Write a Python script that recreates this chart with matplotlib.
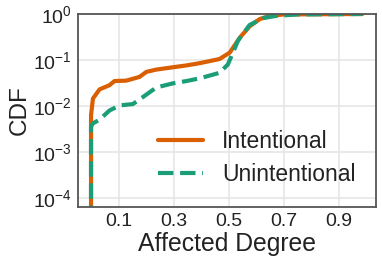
import matplotlib
matplotlib.use("Agg")
import matplotlib.pyplot as plt

# affected degree (x) and log10 of the CDF
intent_x = [0.0, 0.0, 0.007, 0.031, 0.067, 0.085, 0.128, 0.176, 0.201, 0.237,
            0.297, 0.346, 0.395, 0.467, 0.504, 0.54, 0.576, 0.613, 0.65, 0.70, 0.986]
intent_logcdf = [-6.0, -2.2, -1.84, -1.64, -1.55, -1.46, -1.45, -1.37, -1.26, -1.21,
                 -1.16, -1.12, -1.07, -0.98, -0.84, -0.52, -0.27, -0.11, -0.04, -0.01, 0.0]

unint_x = [0.0, 0.0, 0.007, 0.031, 0.067, 0.104, 0.152, 0.188, 0.237, 0.297,
           0.346, 0.395, 0.467, 0.497, 0.534, 0.576, 0.625, 0.673, 0.75, 0.986]
unint_logcdf = [-6.0, -2.45, -2.38, -2.30, -2.10, -1.99, -1.96, -1.81, -1.60, -1.51,
                -1.46, -1.40, -1.28, -1.10, -0.58, -0.24, -0.09, -0.04, -0.01, 0.0]

xticks = [0.1, 0.3, 0.5, 0.7, 0.9]

plt.rcParams['font.family'] = ['Liberation Sans', 'DejaVu Sans']

fig = plt.figure(figsize=(3.82, 2.64), dpi=100)
ax = fig.add_axes([0.203, 0.216, 0.781, 0.731])

ax.plot(intent_x, [10 ** v for v in intent_logcdf], color="#d95f02", lw=3.0,
        solid_capstyle="round", label="Intentional")
ax.plot(unint_x, [10 ** v for v in unint_logcdf], color="#1b9e77", lw=3.0,
        linestyle="--", label="Unintentional")

ax.set_yscale("log")
ax.set_xlim(-0.049, 1.035)
ax.set_ylim(10 ** -4.2, 1.0)
ax.set_xticks(xticks)
ax.set_xticklabels([str(t) for t in xticks])
ax.minorticks_off()
ax.set_yticks([1e-4, 1e-3, 1e-2, 1e-1, 1])

ax.tick_params(labelsize=14, length=0, pad=4, colors="#222222")
ax.grid(True, color="#e6e6e6", lw=1.2)
for s in ax.spines.values():
    s.set_color("#555555")
    s.set_linewidth(1.3)

ax.set_xlabel("Affected Degree", fontsize=17.8, color="#222222", labelpad=2)
ax.set_ylabel("CDF", fontsize=17.5, color="#222222", labelpad=2)

ax.legend(loc="lower right", frameon=False, fontsize=16.5, handlelength=2.0,
          handletextpad=0.8, labelspacing=0.45, bbox_to_anchor=(1.0, 0.0),
          labelcolor="#222222")

fig.savefig("out.png", dpi=100)
